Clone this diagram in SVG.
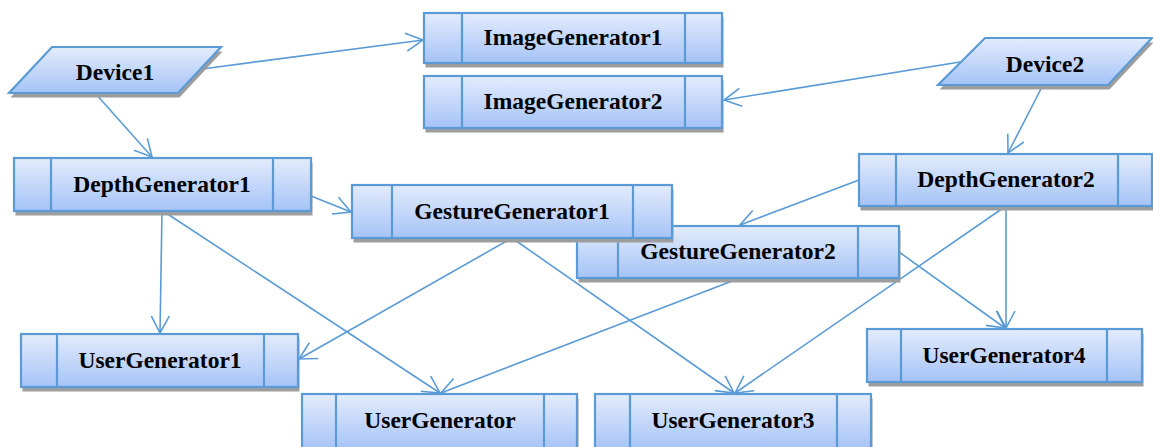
<svg xmlns="http://www.w3.org/2000/svg" width="1153" height="447" viewBox="0 0 1153 447">
<defs>
<linearGradient id="g" x1="0" y1="0" x2="0" y2="1">
<stop offset="0" stop-color="#e3ecfc"/>
<stop offset="1" stop-color="#a5c3f7"/>
</linearGradient>
<filter id="blur" x="-5%" y="-20%" width="110%" height="140%"><feGaussianBlur stdDeviation="0.4"/></filter>
<marker id="arr" viewBox="-20 -12 22 24" refX="0" refY="0" markerWidth="22" markerHeight="24" markerUnits="userSpaceOnUse" orient="auto">
<path d="M -17 -9 L 0 0 L -17 9" fill="none" stroke="#5b9bd5" stroke-width="1.6"/>
</marker>
<style>
.box{fill:url(#g);stroke:#5b9bd5;stroke-width:2.2}
.sh{fill:#9d9d9d;filter:url(#blur)}
.div{stroke:#5b9bd5;stroke-width:2.2}
.lbl{font-family:"Liberation Serif","Times New Roman",serif;font-weight:bold;font-size:23.5px;fill:#000;text-anchor:middle}
.con{fill:none;stroke:#5b9bd5;stroke-width:1.6;marker-end:url(#arr)}
</style>
</defs>
<rect width="1153" height="447" fill="#fff"/>

<g id="connectors">
<line class="con" x1="202" y1="69" x2="423" y2="40"/>
<line class="con" x1="95" y1="93" x2="152" y2="157"/>
<line class="con" x1="960" y1="62" x2="724" y2="100"/>
<line class="con" x1="1043" y1="85" x2="1008" y2="153"/>
<line class="con" x1="311" y1="196" x2="351" y2="212"/>
<line class="con" x1="162" y1="211" x2="160" y2="333"/>
<line class="con" x1="163" y1="211" x2="440" y2="393"/>
<line class="con" x1="512" y1="238" x2="299" y2="359"/>
<line class="con" x1="512" y1="238" x2="734" y2="393"/>
<line class="con" x1="859" y1="180" x2="740" y2="225"/>
<line class="con" x1="740" y1="278" x2="441" y2="393"/>
<line class="con" x1="1006" y1="206" x2="735" y2="393"/>
<line class="con" x1="1006" y1="206" x2="1006" y2="328"/>
<line class="con" x1="899" y1="252" x2="1005" y2="328"/>
</g>

<g id="Device1">
<polygon class="sh" points="53.5,51.5 222.5,51.5 179.5,97.5 10.5,97.5"/>
<polygon class="box" points="52,47 221,47 178,93 9,93"/>
<text class="lbl" x="115" y="80">Device1</text>
</g>

<g id="Device2">
<polygon class="sh" points="986.5,42.5 1153.5,42.5 1109.5,89.5 939.5,89.5"/>
<polygon class="box" points="985,38 1152,38 1108,85 938,85"/>
<text class="lbl" x="1045" y="72">Device2</text>
</g>

<g id="ImageGenerator1">
<rect class="sh" x="425.5" y="17.5" width="298" height="50"/>
<rect class="box" x="424" y="13" width="298" height="50"/>
<line class="div" x1="462" y1="13" x2="462" y2="63"/>
<line class="div" x1="685" y1="13" x2="685" y2="63"/>
<text class="lbl" x="573" y="45">ImageGenerator1</text>
</g>

<g id="ImageGenerator2">
<rect class="sh" x="425.5" y="80.5" width="298" height="52"/>
<rect class="box" x="424" y="76" width="298" height="52"/>
<line class="div" x1="462" y1="76" x2="462" y2="128"/>
<line class="div" x1="685" y1="76" x2="685" y2="128"/>
<text class="lbl" x="573" y="109">ImageGenerator2</text>
</g>

<g id="DepthGenerator1">
<rect class="sh" x="15.5" y="162.5" width="297" height="53"/>
<rect class="box" x="14" y="158" width="297" height="53"/>
<line class="div" x1="51" y1="158" x2="51" y2="211"/>
<line class="div" x1="273" y1="158" x2="273" y2="211"/>
<text class="lbl" x="162" y="192">DepthGenerator1</text>
</g>

<g id="DepthGenerator2">
<rect class="sh" x="860.5" y="158.5" width="293" height="52"/>
<rect class="box" x="859" y="154" width="293" height="52"/>
<line class="div" x1="896" y1="154" x2="896" y2="206"/>
<line class="div" x1="1118" y1="154" x2="1118" y2="206"/>
<text class="lbl" x="1006" y="187">DepthGenerator2</text>
</g>

<g id="GestureGenerator2">
<rect class="sh" x="578.5" y="230.5" width="322" height="52"/>
<rect class="box" x="577" y="226" width="322" height="52"/>
<line class="div" x1="618" y1="226" x2="618" y2="278"/>
<line class="div" x1="858" y1="226" x2="858" y2="278"/>
<text class="lbl" x="738" y="259">GestureGenerator2</text>
</g>

<g id="GestureGenerator1">
<rect class="sh" x="353.5" y="189.5" width="320" height="53"/>
<rect class="box" x="352" y="185" width="320" height="53"/>
<line class="div" x1="392" y1="185" x2="392" y2="238"/>
<line class="div" x1="633" y1="185" x2="633" y2="238"/>
<text class="lbl" x="512" y="219">GestureGenerator1</text>
</g>

<g id="UserGenerator1">
<rect class="sh" x="22.5" y="338.5" width="277" height="53"/>
<rect class="box" x="21" y="334" width="277" height="53"/>
<line class="div" x1="57" y1="334" x2="57" y2="387"/>
<line class="div" x1="264" y1="334" x2="264" y2="387"/>
<text class="lbl" x="160" y="368">UserGenerator1</text>
</g>

<g id="UserGenerator4">
<rect class="sh" x="868.5" y="333.5" width="275" height="53"/>
<rect class="box" x="867" y="329" width="275" height="53"/>
<line class="div" x1="901" y1="329" x2="901" y2="382"/>
<line class="div" x1="1107" y1="329" x2="1107" y2="382"/>
<text class="lbl" x="1004" y="363">UserGenerator4</text>
</g>

<g id="UserGenerator">
<rect class="sh" x="303.5" y="398.5" width="275" height="56"/>
<rect class="box" x="302" y="394" width="275" height="56"/>
<line class="div" x1="336" y1="394" x2="336" y2="450"/>
<line class="div" x1="544" y1="394" x2="544" y2="450"/>
<text class="lbl" x="440" y="428">UserGenerator</text>
</g>

<g id="UserGenerator3">
<rect class="sh" x="596.5" y="398.5" width="276" height="56"/>
<rect class="box" x="595" y="394" width="276" height="56"/>
<line class="div" x1="630" y1="394" x2="630" y2="450"/>
<line class="div" x1="837" y1="394" x2="837" y2="450"/>
<text class="lbl" x="733" y="428">UserGenerator3</text>
</g>
</svg>
